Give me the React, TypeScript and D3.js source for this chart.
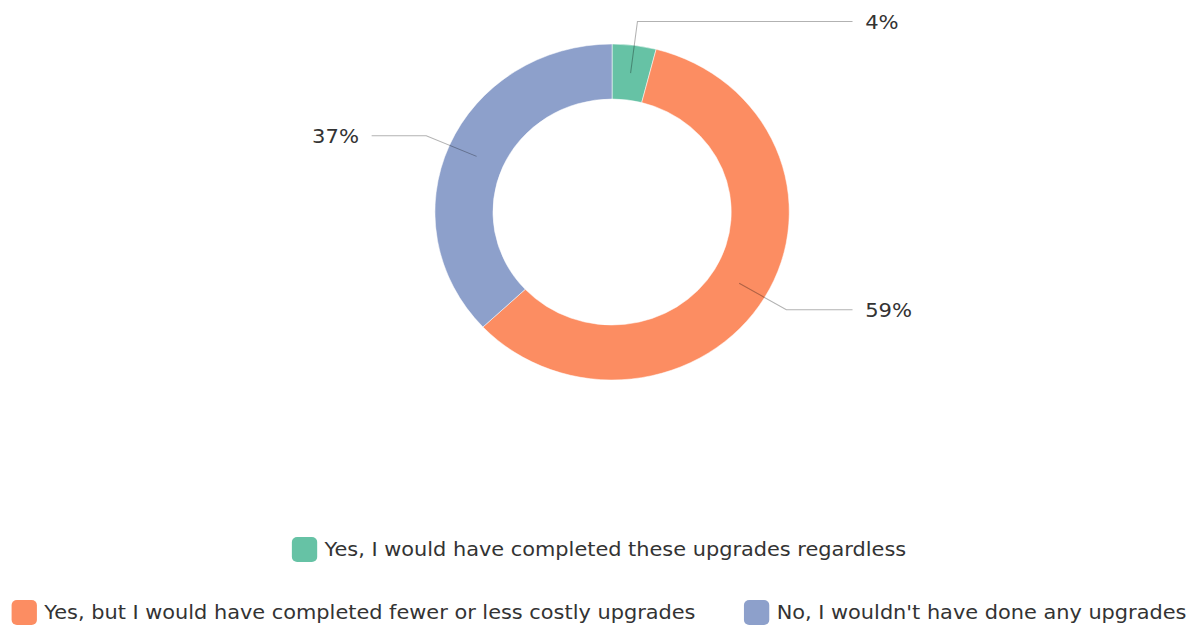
import React from "react";
import * as d3 from "d3";

const categories = [
  "Yes, I would have completed these upgrades regardless",
  "Yes, but I would have completed fewer or less costly upgrades",
  "No, I wouldn't have done any upgrades",
];
const values = [4, 59, 37];
const labels = ["4%", "59%", "37%"];
const colors = ["#66c2a5", "#fc8d62", "#8da0cb"];
const legendRows = [[0], [1, 2]];

const W = 1198;
const H = 628;
const NW = 1136; // native width before horizontal stretch
const FONT_NAME = "DejaVu Sans";
const FONT = `'${FONT_NAME}', sans-serif`;

function measure(text: string, size: number) {
  const c = document.createElement("canvas").getContext("2d")!;
  c.font = `${size}px '${FONT_NAME}'`;
  return c.measureText(text).width;
}

export default function App() {
  const cx = NW / 2 + 12.4;
  const cy = 212;
  const R = 168;
  const r = 113;
  const pie = d3.pie<number>().sort(null).value((d) => d);
  const arcs = pie(values);
  const arc = d3.arc<d3.PieArcDatum<number>>().innerRadius(r).outerRadius(R);

  const labelSize = 20;
  const legendSize = 19.8;
  const sw = 24;
  const swGap = 7;
  const itemGap = 46;
  const rowY = [549, 612];

  return (
    <svg
      width={W}
      height={H}
      viewBox={`0 0 ${NW} ${H}`}
      preserveAspectRatio="none"
      style={{ position: "absolute", left: 0, top: 0, background: "#fff" }}
    >
      <g transform={`translate(${cx},${cy})`}>
        {arcs.map((a, i) => (
          <path key={i} d={arc(a)!} fill={colors[i]} stroke="#fff" strokeWidth={0.5} />
        ))}
        {arcs.map((a, i) => {
          const mid = (a.startAngle + a.endAngle) / 2;
          const s = Math.sin(mid);
          const c = -Math.cos(mid);
          const p1 = [140 * s, 140 * c];
          const p2 = [192 * s, 192 * c];
          const right = s >= 0;
          const p3 = [right ? 228 : -228, p2[1]];
          const tx = right ? 240 : -240;
          return (
            <g key={i}>
              <polyline
                points={[p1, p2, p3].map((p) => p.join(",")).join(" ")}
                fill="none"
                stroke="#000"
                strokeOpacity={0.3}
                strokeWidth={1}
              />
              <text
                x={tx}
                y={p2[1]}
                dy="0.35em"
                textAnchor={right ? "start" : "end"}
                fontFamily={FONT}
                fontSize={labelSize}
                fill="#333"
              >
                {labels[i]}
              </text>
            </g>
          );
        })}
      </g>
      {legendRows.map((row, ri) => {
        const widths = row.map((i) => sw + swGap + measure(categories[i], legendSize));
        const total = widths.reduce((a, b) => a + b, 0) + itemGap * (row.length - 1);
        let x = NW / 2 - total / 2;
        return (
          <g key={ri}>
            {row.map((i, k) => {
              const x0 = x;
              x += widths[k] + itemGap;
              return (
                <g key={i}>
                  <rect
                    x={x0}
                    y={rowY[ri] - sw / 2}
                    width={sw}
                    height={sw + 1}
                    rx={5}
                    fill={colors[i]}
                  />
                  <text
                    x={x0 + sw + swGap}
                    y={rowY[ri]}
                    dy="0.35em"
                    fontFamily={FONT}
                    fontSize={legendSize}
                    fill="#333"
                  >
                    {categories[i]}
                  </text>
                </g>
              );
            })}
          </g>
        );
      })}
    </svg>
  );
}
